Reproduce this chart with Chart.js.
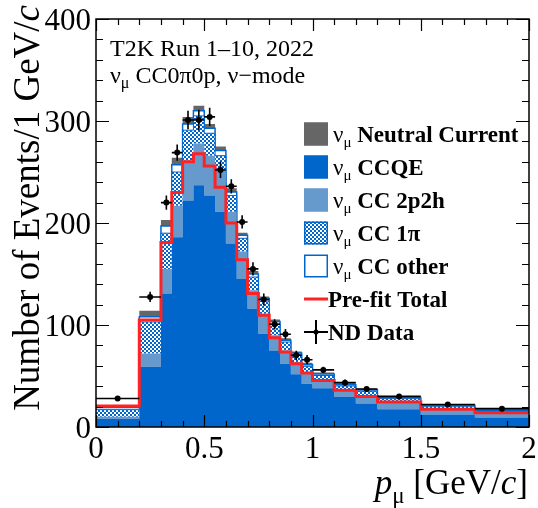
<!DOCTYPE html>
<html><head><meta charset="utf-8">
<script src="https://cdn.jsdelivr.net/npm/chart.js@4.4.0/dist/chart.umd.min.js"></script>
<style>html,body{margin:0;padding:0;background:#fff;}#wrap{width:538px;height:508px;}</style>
</head><body><div id="wrap"><canvas id="c" width="538" height="508"></canvas></div>
<script>
// ---- data ----
const binEdges = [0,0.2,0.3,0.35,0.4,0.45,0.5,0.55,0.6,0.65,0.7,0.75,0.8,0.85,0.9,0.95,1.0,1.1,1.2,1.3,1.5,1.75,2.0];
const ccqe    = [8,59,131,186,222,237,227,211,180,145,116,91.5,75,62,51.7,42.5,38,29.4,23,17.4,12.2,9.2];
const cc2p2h  = [2,13,24,31,39,41,39,42,31,27,18,19.5,15,13,12,11.5,8,7.2,8,7.8,5.2,3.9];
const cc1pi   = [7,31,35,33,30,27,22,13,16,13,13,12.5,11,8.3,7.3,5.5,4.5,3.6,4,2.6,2.9,2.3];
const ccOther = [2,5,7,7,6,5,5,5,3.5,3,3,2.5,2.5,1.7,1.5,1.5,1.5,1.3,1.3,1.2,1,1];
const ncVals  = [1,6,6,7,7,5,4,4,3.5,2.5,3,2,2,2,1.5,2,1.5,1.5,1.3,1,1,1];
const preFit  = [20.5,105,181,230,260,268,256,235,200,164,131,109.5,87.6,73.5,62,53,45.5,36,30,24.5,17.5,14];
const ndData  = [28,127.5,220,269,301,301,304,252,236,201,155,125,100.7,91,70.3,66,56,43.5,37.3,30,22,18];
const ndErr   = [2.5,5,7,8,9,10,9,8,7,6.5,6.5,6,5,5,4.5,4.5,3,3,2.5,2,1.5,1.5];
const xTickValues = [0,0.5,1,1.5,2];
const xTickLabels = ['0','0.5','1','1.5','2'];
const yTickValues = [0,100,200,300,400];
const yTickLabels = ['0','100','200','300','400'];

// ---- build library tables ----
function cumulate(arrs){ const out=[]; let run=arrs[0].map(()=>0);
  arrs.forEach(a=>{ run=run.map((v,i)=>v+a[i]); out.push(run.slice()); }); return out; }
const cum = cumulate([ccqe,cc2p2h,cc1pi,ccOther,ncVals]);
function stepPts(vals){ return binEdges.map((e,i)=>({x:e,y:vals[Math.min(i,vals.length-1)]})); }
const errPts=[];
ndData.forEach((v,i)=>{ const lo=binEdges[i], hi=binEdges[i+1], c=(lo+hi)/2;
  errPts.push({x:lo,y:v},{x:hi,y:v},{x:c,y:null},{x:c,y:v-ndErr[i]},{x:c,y:v+ndErr[i]},{x:c,y:null}); });
const dataPts = ndData.map((v,i)=>({x:(binEdges[i]+binEdges[i+1])/2,y:v}));

const canvas=document.getElementById('c');
const ctx0=canvas.getContext('2d');
const BLUE='#0066cc', LBLUE='#6699cc', GREY='#666666', RED='#ff2222';
function makePattern(){ const p=document.createElement('canvas'); p.width=4;p.height=4; const g=p.getContext('2d');
  g.fillStyle='#ffffff'; g.fillRect(0,0,4,4); g.fillStyle=BLUE; g.fillRect(0,0,2,2); g.fillRect(2,2,2,2);
  return ctx0.createPattern(p,'repeat'); }
const hatch=makePattern();

const FONT='"Liberation Serif","Times New Roman",serif';
function drawPieces(ctx,pieces,x,y,align){
  let total=0; pieces.forEach(p=>{ ctx.font=`${p.style||''} ${p.weight||''} ${p.size}px ${FONT}`; p.w=ctx.measureText(p.t).width; total+=p.w; });
  let cx = align==='right' ? x-total : x;
  ctx.textAlign='left'; ctx.textBaseline='alphabetic';
  pieces.forEach(p=>{ ctx.font=`${p.style||''} ${p.weight||''} ${p.size}px ${FONT}`; ctx.fillText(p.t,cx,y+(p.dy||0)); cx+=p.w; });
}

const decor={ id:'decor', afterDraw(chart){
  const ctx=chart.ctx, a=chart.chartArea, xs=chart.scales.x, ys=chart.scales.y;
  ctx.save(); ctx.fillStyle='#000'; ctx.strokeStyle='#000';
  ctx.lineWidth=1.5; ctx.strokeRect(a.left,a.top,a.right-a.left,a.bottom-a.top);
  ctx.lineWidth=1.2; ctx.beginPath();
  for(let k=0;k<=20;k++){ const v=k*0.1, px=Math.round(xs.getPixelForValue(v))+0.5, L=(k%5===0)?12:6;
    ctx.moveTo(px,a.bottom); ctx.lineTo(px,a.bottom-L); ctx.moveTo(px,a.top); ctx.lineTo(px,a.top+L); }
  for(let k=0;k<=20;k++){ const v=k*20, py=Math.round(ys.getPixelForValue(v))+0.5, L=(k%5===0)?13:7;
    ctx.moveTo(a.left,py); ctx.lineTo(a.left+L,py); ctx.moveTo(a.right,py); ctx.lineTo(a.right-L,py); }
  ctx.stroke();
  ctx.font=`31px ${FONT}`; ctx.textBaseline='alphabetic';
  ctx.textAlign='right';
  yTickValues.forEach((v,i)=>{ ctx.fillText(yTickLabels[i],91,ys.getPixelForValue(v)+11); });
  ctx.textAlign='center';
  xTickValues.forEach((v,i)=>{ ctx.fillText(xTickLabels[i],xs.getPixelForValue(v),458); });
  ctx.save(); ctx.translate(39,5); ctx.rotate(-Math.PI/2);
  drawPieces(ctx,[{t:'Number of Events/1 GeV/',size:37},{t:'c',size:37,style:'italic'}],0,0,'right');
  ctx.restore();
  drawPieces(ctx,[{t:'p',size:35,style:'italic'},{t:'\u03bc',size:23,dy:9},{t:' [GeV/',size:35},{t:'c',size:35,style:'italic'},{t:']',size:35}],528,494,'right');
  drawPieces(ctx,[{t:'T2K Run 1\u201310, 2022',size:24}],110,56,'left');
  drawPieces(ctx,[{t:'\u03bd',size:24},{t:'\u03bc',size:16,dy:5},{t:' CC0\u03c00p, \u03bd\u2212mode',size:24}],110,83,'left');
  const lx=304, lw=24, lh=23, tx=333;
  const rows=[
    {label:'Neutral Current', kind:'box', fill:GREY, stroke:GREY},
    {label:'CCQE', kind:'box', fill:BLUE, stroke:BLUE},
    {label:'CC 2p2h', kind:'box', fill:LBLUE, stroke:LBLUE},
    {label:'CC 1\u03c0', kind:'box', fill:hatch, stroke:BLUE},
    {label:'CC other', kind:'box', fill:'#ffffff', stroke:BLUE},
    {label:'Pre-fit Total', kind:'line'},
    {label:'ND Data', kind:'data'}];
  rows.forEach((r,i)=>{ const cy=134+i*33;
    if(r.kind==='box'){ ctx.fillStyle=r.fill; ctx.fillRect(lx,cy-lh/2,lw,lh); ctx.strokeStyle=r.stroke; ctx.lineWidth=1.5; ctx.strokeRect(lx+0.75,cy-lh/2+0.75,lw-1.5,lh-1.5); }
    else if(r.kind==='line'){ ctx.strokeStyle=RED; ctx.lineWidth=3; ctx.beginPath(); ctx.moveTo(lx,cy); ctx.lineTo(lx+lw,cy); ctx.stroke(); }
    else { ctx.strokeStyle='#000'; ctx.lineWidth=2; ctx.beginPath(); ctx.moveTo(lx,cy); ctx.lineTo(lx+lw,cy); ctx.moveTo(lx+lw/2,cy-12); ctx.lineTo(lx+lw/2,cy+12); ctx.stroke();
      ctx.fillStyle='#000'; ctx.beginPath(); ctx.arc(lx+lw/2,cy,2.5,0,Math.PI*2); ctx.fill(); }
    ctx.fillStyle='#000';
    if(i<5) drawPieces(ctx,[{t:'\u03bd',size:23},{t:'\u03bc',size:15,dy:5},{t:' '+r.label,size:23,weight:'bold'}],tx,cy+8,'left');
    else drawPieces(ctx,[{t:r.label,size:23,weight:'bold'}],tx-5,cy+8,'left');
  });
  ctx.restore();
}};

function comp(label,idx,bg,border,bw){
  return {label, data:stepPts(cum[idx]), stepped:'before', fill: idx===0?'origin':'-1',
    backgroundColor:bg, borderColor:border, borderWidth:bw, pointRadius:0, order:10};
}
new Chart(canvas,{
  type:'line',
  data:{datasets:[
    comp('CCQE',0,BLUE,BLUE,0),
    comp('CC 2p2h',1,LBLUE,LBLUE,0),
    comp('CC 1pi',2,hatch,BLUE,1),
    comp('CC other',3,'#ffffff',BLUE,1.5),
    comp('Neutral Current',4,GREY,GREY,0),
    {label:'Pre-fit Total',data:stepPts(preFit),stepped:'before',fill:false,borderColor:RED,borderWidth:3,pointRadius:0,order:2},
    {label:'err',data:errPts,fill:false,borderColor:'#000',borderWidth:1.6,pointRadius:0,spanGaps:false,order:1},
    {label:'ND Data',data:dataPts,showLine:false,pointRadius:3,pointBackgroundColor:'#000',pointBorderColor:'#000',pointBorderWidth:0,order:0}
  ]},
  options:{responsive:false,animation:false,devicePixelRatio:1,
    layout:{padding:{left:0,right:9,top:19,bottom:0}},
    plugins:{legend:{display:false},tooltip:{enabled:false}},
    scales:{
      x:{type:'linear',min:0,max:2,grid:{display:false},border:{display:false},ticks:{display:false},afterFit(s){s.height=81;}},
      y:{type:'linear',min:0,max:400,grid:{display:false},border:{display:false},ticks:{display:false},afterFit(s){s.width=96;}}
    }},
  plugins:[decor]
});
</script></body></html>
